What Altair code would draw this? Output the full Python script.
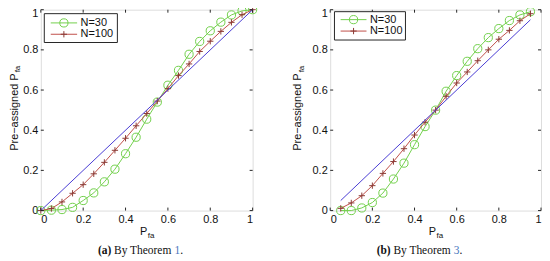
import altair as alt
import pandas as pd

# ---------------- data ----------------
tick_vals = [0, 0.2, 0.4, 0.6, 0.8, 1]

x_left = [0, 0.05, 0.1, 0.15, 0.2, 0.25, 0.3, 0.35, 0.4, 0.45, 0.5,
          0.55, 0.6, 0.65, 0.7, 0.75, 0.8, 0.85, 0.9, 0.95, 1.0]
n30_left = [0, 0.002, 0.005, 0.016, 0.05, 0.088, 0.143, 0.206, 0.283, 0.365, 0.455,
            0.54, 0.624, 0.698, 0.778, 0.842, 0.895, 0.938, 0.974, 0.994, 1.0]
n100_left = [0, 0.01, 0.043, 0.086, 0.129, 0.183, 0.24, 0.30, 0.36, 0.422, 0.483,
             0.545, 0.607, 0.672, 0.73, 0.792, 0.843, 0.892, 0.937, 0.975, 1.0]
ideal_left = [0, 1]

x_right = [0.05, 0.1, 0.15, 0.2, 0.25, 0.3, 0.35, 0.4, 0.45, 0.5,
           0.55, 0.6, 0.65, 0.7, 0.75, 0.8, 0.85, 0.9, 0.95]
n30_right = [0.0, 0.0, 0.013, 0.04, 0.087, 0.157, 0.236, 0.328, 0.418, 0.5,
             0.594, 0.672, 0.743, 0.806, 0.861, 0.906, 0.946, 0.974, 0.99]
n100_right = [0.011, 0.038, 0.074, 0.124, 0.185, 0.244, 0.308, 0.376, 0.44, 0.5,
              0.569, 0.635, 0.69, 0.746, 0.80, 0.853, 0.897, 0.945, 0.98]
ideal_right = [0.05, 0.95]

legend_labels = ["N=30", "N=100"]
y_title = "Pre\u2212assigned P"
x_title = "P"
subscript = "fa"
caption_left = ["(a)", "By Theorem", "1", "."]
caption_right = ["(b)", "By Theorem", "3", "."]

# ---------------- style ----------------
H = 202
SANS = "Liberation Sans"
SERIF = "Liberation Serif"
GREEN = "#72d04c"
RED = "#c0504a"
RED_M = "#8a3a34"
BLUE = "#4a3cd4"
FRAME = "#262626"
TEXT = "#111111"
CAP_BLUE = "#4a78c0"
PLUS = "M-1,0L1,0M0,-1L0,1"

one = pd.DataFrame({"a": [0]})


def panel(xv, n30, n100, ideal, W, leg, cap, cap_x, ytitle_x):
    xs = alt.Scale(domain=[0, 1], nice=False, zero=False)
    ys = alt.Scale(domain=[0, 1], nice=False, zero=False)
    xaxis = alt.Axis(values=tick_vals, format="~g", labelFont=SANS, labelFontSize=11,
                     labelColor=TEXT, labelPadding=3, tickSize=0, domain=False,
                     grid=False, title=None)
    yaxis = alt.Axis(values=tick_vals, format="~g", labelFont=SANS, labelFontSize=11,
                     labelColor=TEXT, labelPadding=3, tickSize=0, domain=False,
                     grid=False, title=None,
                     labelBaseline={"condition": {"test": "datum.value == 1", "value": "top"},
                                    "value": "middle"},
                     labelOffset={"condition": {"test": "datum.value == 1", "value": -2},
                                  "value": 0})
    X = alt.X("x:Q", scale=xs, axis=xaxis)
    Y = alt.Y("y:Q", scale=ys, axis=yaxis)

    d30 = pd.DataFrame({"x": xv, "y": n30})
    d100 = pd.DataFrame({"x": xv, "y": n100})
    dideal = pd.DataFrame({"x": ideal, "y": ideal})

    l30 = alt.Chart(d30).mark_line(color=GREEN, strokeWidth=1).encode(x=X, y=Y)
    p30 = alt.Chart(d30).mark_point(shape="circle", filled=False, color=GREEN,
                                    size=68, strokeWidth=1, opacity=1).encode(x=X, y=Y)
    l100 = alt.Chart(d100).mark_line(color=RED, strokeWidth=1).encode(x=X, y=Y)
    p100 = alt.Chart(d100).mark_point(shape=PLUS, filled=False, color=RED_M,
                                      size=40, strokeWidth=1, opacity=1).encode(x=X, y=Y)
    lid = alt.Chart(dideal).mark_line(color=BLUE, strokeWidth=1).encode(x=X, y=Y)

    tx = pd.DataFrame({"x": tick_vals})
    ty = pd.DataFrame({"y": tick_vals})
    tb = alt.Chart(tx).mark_rule(color=FRAME, strokeWidth=1).encode(
        x=X, y=alt.value(H), y2=alt.value(H - 3))
    tt = alt.Chart(tx).mark_rule(color=FRAME, strokeWidth=1).encode(
        x=X, y=alt.value(0), y2=alt.value(3))
    tl = alt.Chart(ty).mark_rule(color=FRAME, strokeWidth=1).encode(
        y=Y, x=alt.value(0), x2=alt.value(3))
    tr = alt.Chart(ty).mark_rule(color=FRAME, strokeWidth=1).encode(
        y=Y, x=alt.value(W), x2=alt.value(W - 3))

    # legend box
    bx1, by1, bx2, by2, ly1, ly2, lx1, lx2, mx, tx0 = leg
    box = alt.Chart(one).mark_rect(fill="white", stroke=FRAME, strokeWidth=1).encode(
        x=alt.value(bx1), x2=alt.value(bx2), y=alt.value(by1), y2=alt.value(by2))
    g1 = alt.Chart(one).mark_rule(color=GREEN, strokeWidth=1).encode(
        x=alt.value(lx1), x2=alt.value(lx2), y=alt.value(ly1))
    m1 = alt.Chart(one).mark_point(shape="circle", filled=False, color=GREEN, size=68,
                                   strokeWidth=1, opacity=1).encode(
        x=alt.value(mx), y=alt.value(ly1))
    t1 = alt.Chart(one).mark_text(align="left", baseline="middle", font=SANS, fontSize=11,
                                  color=TEXT).encode(
        x=alt.value(tx0), y=alt.value(ly1), text=alt.value(legend_labels[0]))
    g2 = alt.Chart(one).mark_rule(color=RED, strokeWidth=1).encode(
        x=alt.value(lx1), x2=alt.value(lx2), y=alt.value(ly2))
    m2 = alt.Chart(one).mark_point(shape=PLUS, filled=False, color=RED_M, size=40,
                                   strokeWidth=1, opacity=1).encode(
        x=alt.value(mx), y=alt.value(ly2))
    t2 = alt.Chart(one).mark_text(align="left", baseline="middle", font=SANS, fontSize=11,
                                  color=TEXT).encode(
        x=alt.value(tx0), y=alt.value(ly2), text=alt.value(legend_labels[1]))

    # axis titles with subscripts
    yt_main = alt.Chart(one).mark_text(align="right", baseline="alphabetic", angle=270,
                                       font=SANS, fontSize=11, color=TEXT).encode(
        x=alt.value(ytitle_x), y=alt.value(64), text=alt.value(y_title))
    yt_sub = alt.Chart(one).mark_text(align="left", baseline="alphabetic", angle=270,
                                      font=SANS, fontSize=8, color=TEXT).encode(
        x=alt.value(ytitle_x + 2.5), y=alt.value(63), text=alt.value(subscript))
    xt_main = alt.Chart(one).mark_text(align="right", baseline="alphabetic",
                                       font=SANS, fontSize=11, color=TEXT).encode(
        x=alt.value(W / 2 + 0.5), y=alt.value(H + 25), text=alt.value(x_title))
    xt_sub = alt.Chart(one).mark_text(align="left", baseline="alphabetic",
                                      font=SANS, fontSize=8, color=TEXT).encode(
        x=alt.value(W / 2 + 1), y=alt.value(H + 27.5), text=alt.value(subscript))

    # caption
    cap_layers = []
    styles = [("bold", TEXT), ("normal", TEXT), ("normal", CAP_BLUE), ("normal", TEXT)]
    for txt, cx, (fw, col) in zip(cap, cap_x, styles):
        cap_layers.append(
            alt.Chart(one).mark_text(align="left", baseline="alphabetic", font=SERIF,
                                     fontSize=11.5, fontWeight=fw, color=col).encode(
                x=alt.value(cx), y=alt.value(H + 44), text=alt.value(txt)))

    return alt.layer(l30, p30, l100, p100, lid, tb, tt, tl, tr,
                     box, g1, m1, t1, g2, m2, t2,
                     yt_main, yt_sub, xt_main, xt_sub, *cap_layers).properties(
        width=W, height=H)


left = panel(x_left, n30_left, n100_left, ideal_left, 213,
             (3.5, 4, 77, 33, 13.3, 24.7, 10, 36.5, 23.2, 40),
             caption_left, [57.4, 73.7, 134.4, 140.1], -23)
right = panel(x_right, n30_right, n100_right, ideal_right, 212,
              (4.3, 2, 75.7, 30.5, 10, 21.5, 10.5, 36.5, 23.5, 40),
              caption_right, [46.7, 63.6, 124.3, 130.1], -29)

chart = alt.hconcat(left, right, spacing=78, bounds="flush").properties(
    padding={"top": -6, "left": 0, "right": 0, "bottom": 0}
).configure_view(stroke=FRAME, strokeWidth=1).configure(background="white")

chart.save("out.html", embed_options={"renderer": "svg", "actions": False})
